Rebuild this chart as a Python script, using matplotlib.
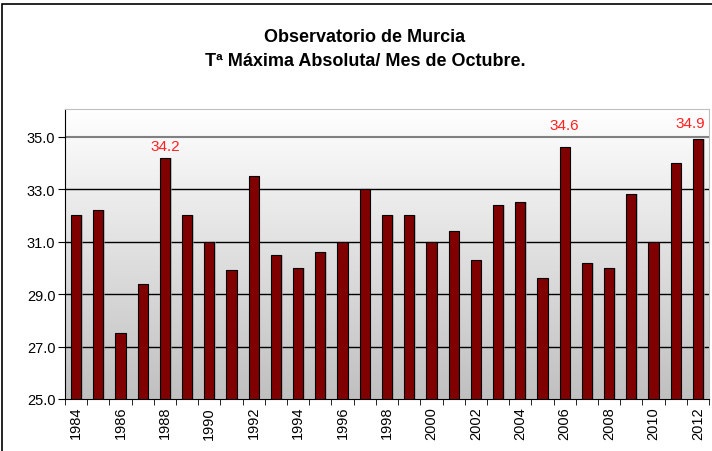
import numpy as np
import matplotlib.pyplot as plt
from matplotlib.patches import Rectangle
from matplotlib.colors import LinearSegmentedColormap

plt.rcParams['font.family'] = ['Liberation Sans', 'DejaVu Sans']

years = list(range(1984, 2013))
tmax = [32.0, 32.2, 27.5, 29.4, 34.2, 32.0, 31.0, 29.9, 33.5, 30.5,
        30.0, 30.6, 31.0, 33.0, 32.0, 32.0, 31.0, 31.4, 30.3, 32.4,
        32.5, 29.6, 34.6, 30.2, 30.0, 32.8, 31.0, 34.0, 34.9]
labelled = [1988, 2006, 2012]

fig = plt.figure(figsize=(7.12, 4.52), dpi=100)
ax = fig.add_axes([65/712, 52/452, 644/712, 290/452])

# outer chart border
fig.patches.append(Rectangle((2/712, -0.01), 1.1, 1.0, transform=fig.transFigure,
                             fill=False, edgecolor='black', lw=1.2))

x = np.arange(len(years))
ymin, ymax = 25.0, 36.05
ax.set_xlim(-0.5, len(years) - 0.5)
ax.set_ylim(ymin, ymax)

# gradient background
grad = np.linspace(0, 1, 256).reshape(-1, 1)
cmap = LinearSegmentedColormap.from_list('g', ['#c0c0c0', '#ffffff'])
ax.imshow(grad, cmap=cmap, aspect='auto', origin='lower',
          extent=(-0.5, len(years) - 0.5, ymin, ymax), zorder=0)

for yv in [27, 29, 31, 33]:
    ax.axhline(yv, color='black', lw=1.0, zorder=1)
ax.axhline(35, color='#808080', lw=1.5, zorder=1)

# shadow and bars
vals = np.array(tmax)
ax.bar(x + 0.07, vals - ymin, bottom=ymin, width=0.46, color='#a0a0a0',
       alpha=0.6, zorder=2)
ax.bar(x, vals - ymin, bottom=ymin, width=0.46, color='#800000',
       edgecolor='black', lw=0.8, zorder=3)

# value labels (offsets in pixels, as placed in the original)
offsets = {1988: (0, 5), 2006: (0, 15), 2012: (-8, 9)}
for yr in labelled:
    i = years.index(yr)
    ax.annotate(f"{tmax[i]:.1f}", (x[i], tmax[i]), xytext=offsets[yr],
                textcoords='offset pixels', color='#ff2020', ha='center',
                va='bottom', fontsize=11, zorder=4, annotation_clip=False)

yt = [25, 27, 29, 31, 33, 35]
ax.set_yticks(yt)
ax.set_yticklabels([f"{v:.1f}" for v in yt], fontsize=10.5)
ax.set_xticks(x[::2])
ax.set_xticklabels([str(y) for y in years[::2]], rotation=90, fontsize=10.5)
ax.set_xticks(np.arange(-0.5, len(years)), minor=True)
ax.tick_params(axis='x', which='major', length=0, pad=5)
ax.tick_params(axis='x', which='minor', length=4, color='black')
ax.tick_params(axis='y', length=5, pad=2)

for s in ['top', 'right']:
    ax.spines[s].set_color('#c0c0c0')
ax.spines['left'].set_color('black')
ax.spines['bottom'].set_color('black')

fig.text(365/712, 1 - 37/452, "Observatorio de Murcia", ha='center', va='center',
         fontsize=13, fontweight='bold')
fig.text(365/712, 1 - 62/452, "Tª Máxima Absoluta/ Mes de Octubre.", ha='center',
         va='center', fontsize=13, fontweight='bold')

fig.savefig('out.png', dpi=100)
